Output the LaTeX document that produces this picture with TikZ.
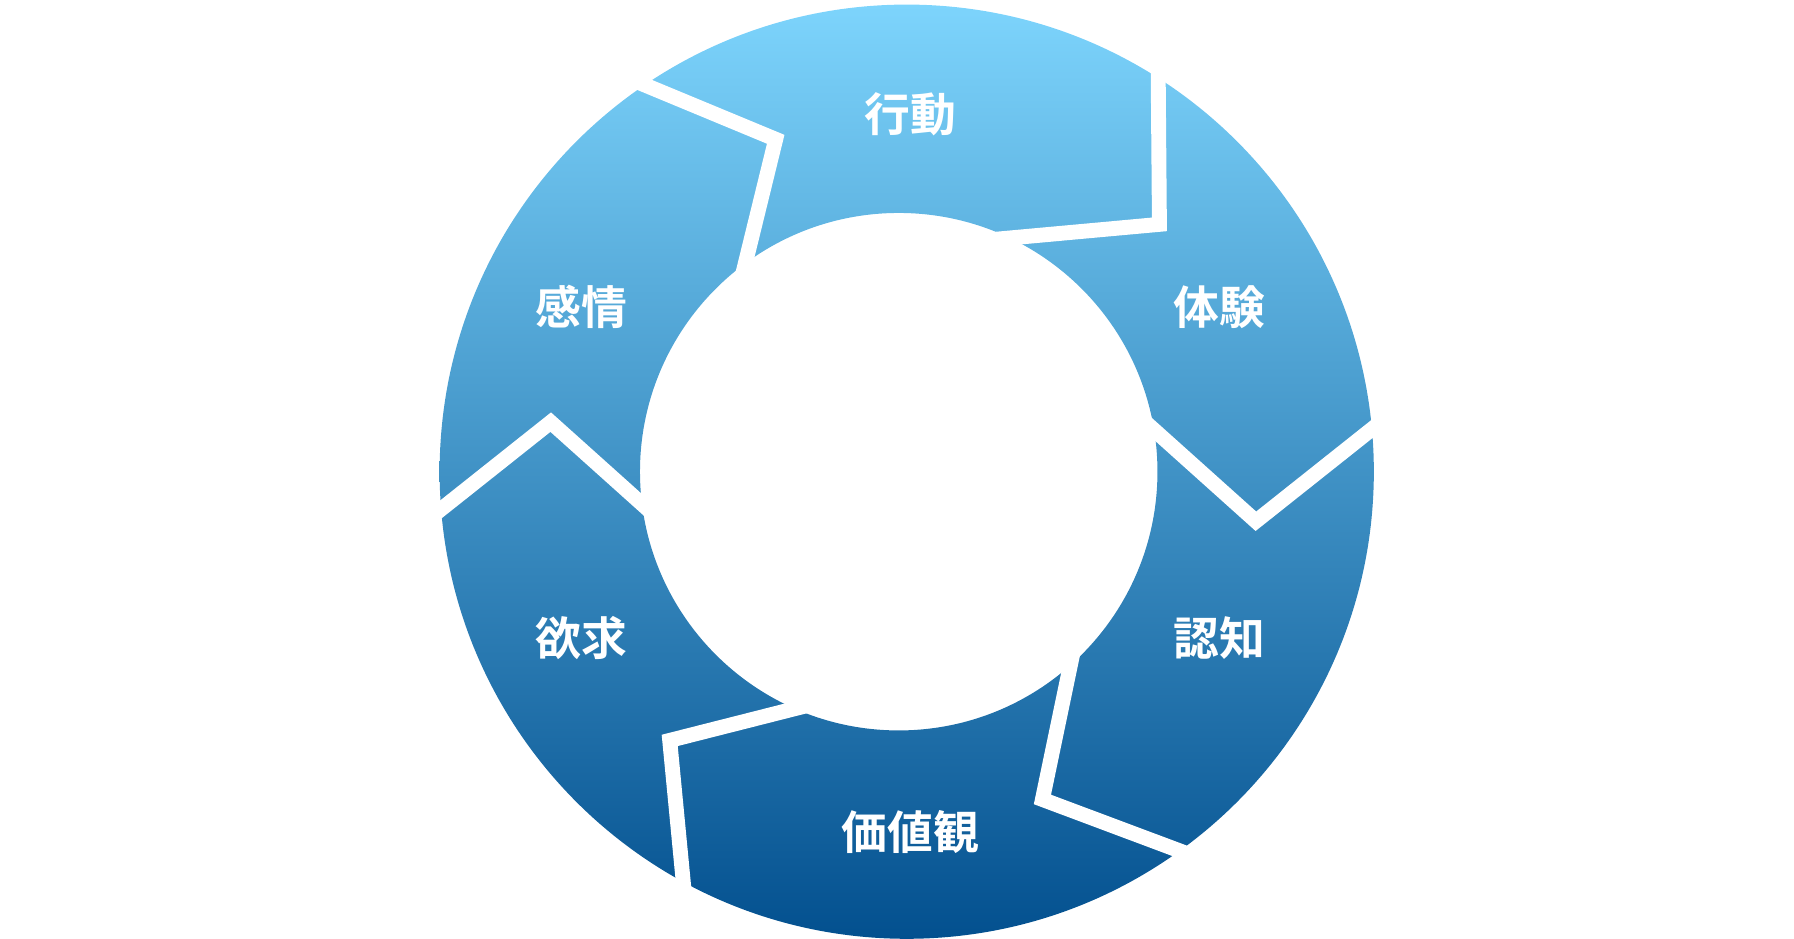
\documentclass[tikz,border=0pt]{standalone}
\usepackage{fontspec}
\newfontfamily\cjk{Noto Sans CJK JP Bold}
\definecolor{topc}{HTML}{7DD4FC}
\definecolor{botc}{HTML}{03508F}
\begin{document}
\begin{tikzpicture}[x=1pt,y=1pt,
  gap/.style={draw=white,line width=13pt,line join=miter,miter limit=10},
  lbl/.style={text=white,font=\cjk\fontsize{40}{48}\selectfont}]
\useasboundingbox (0,0) rectangle (1567,-820);
\shade[top color=topc,bottom color=botc,even odd rule]
  (792,-412) circle (408) (785,-412) circle (226);
\begin{scope}[shift={(789,-412)}]
\foreach \t/\di in {-8/21,44/28,111/22,172/21,229/22,293/22}{
  \draw[gap] (\t+\di:212) -- (\t:311) -- (\t+14:420);
}
\end{scope}
\node[lbl] (a) at (795,-100) {行動};
\node[lbl] (b) at (1065,-268) {体験};
\node[lbl] (c) at (1065,-557) {認知};
\node[lbl] (d) at (795,-727) {価値観};
\node[lbl] (e) at (508,-557) {欲求};
\node[lbl] (f) at (508,-268) {感情};
\end{tikzpicture}
\end{document}
